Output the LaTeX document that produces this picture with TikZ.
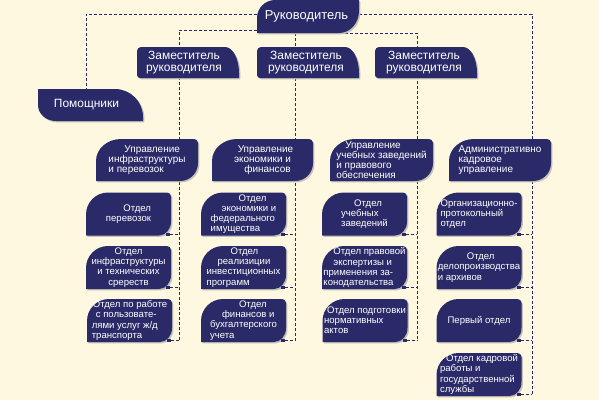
\documentclass[tikz,border=0pt]{standalone}
\usepackage{fontspec}
\setmainfont{Liberation Sans}
\usetikzlibrary{calc}
\definecolor{bgc}{RGB}{254,248,224}
\definecolor{boxc}{RGB}{43,42,104}
\definecolor{linec}{RGB}{40,40,110}
\definecolor{shadowc}{RGB}{195,193,185}
\pgfdeclarelayer{bglayer}
\pgfdeclarelayer{lines}
\pgfdeclarelayer{shapes}
\pgfsetlayers{bglayer,lines,shapes,main}
% #1 node, TL (#2,#3), TR (#4,#5), BR (#6,#7), BL (#8,#9)
\newcommand\bshape[9]{%
  \begin{pgfonlayer}{shapes}
  \foreach \sx/\sy/\col in {1.4/-1.4/shadowc, 0/0/boxc}{
    \fill[fill=\col]
      ([xshift=\sx bp, yshift=\sy bp+#9]#1.south west)
      -- ([xshift=\sx bp, yshift=\sy bp-#3]#1.north west)
      arc[start angle=180, end angle=90, x radius=#2, y radius=#3]
      -- ([xshift=\sx bp-#4, yshift=\sy bp]#1.north east)
      arc[start angle=90, end angle=0, x radius=#4, y radius=#5]
      -- ([xshift=\sx bp, yshift=\sy bp+#7]#1.south east)
      arc[start angle=0, end angle=-90, x radius=#6, y radius=#7]
      -- ([xshift=\sx bp+#8, yshift=\sy bp]#1.south west)
      arc[start angle=270, end angle=180, x radius=#8, y radius=#9]
      -- cycle;
  }
  \end{pgfonlayer}}
\newcommand\leafD[1]{\bshape{#1}{22bp}{22bp}{4bp}{4bp}{12bp}{14bp}{0.5bp}{0.5bp}}
\newcommand\leafU[1]{\bshape{#1}{25bp}{22bp}{4bp}{4bp}{18bp}{18bp}{0.5bp}{0.5bp}}
\newcommand\leafR[1]{\bshape{#1}{18bp}{18bp}{0.5bp}{0.5bp}{20bp}{22bp}{0.5bp}{0.5bp}}
\newcommand\leafZ[1]{\bshape{#1}{4bp}{4bp}{14bp}{26bp}{0.5bp}{0.5bp}{3bp}{3bp}}
\newcommand\leafP[1]{\bshape{#1}{0.5bp}{0.5bp}{28bp}{28bp}{0.5bp}{0.5bp}{18bp}{16bp}}
\tikzset{
  box/.style={inner sep=0pt, outer sep=0pt, text=white, align=center},
  bigbox/.style={box, font=\fontsize{13}{14}\selectfont, minimum width=102bp, minimum height=33bp},
  midbox/.style={box, font=\fontsize{12}{12}\selectfont, minimum width=102bp, minimum height=31bp},
  ubox/.style={box, font=\fontsize{10}{10.2}\selectfont, minimum width=102bp, minimum height=42bp},
  dbox/.style={box, font=\fontsize{9.6}{10.2}\selectfont, minimum width=85bp, minimum height=43bp},
  conn/.style={draw=linec, line width=0.9bp, dash pattern=on 3bp off 2bp},
  sqmark/.style={fill=boxc, inner sep=0pt, outer sep=0pt, minimum width=4bp, minimum height=3bp}
}
\begin{document}
\begin{tikzpicture}[x=1bp,y=-1bp]
\begin{pgfonlayer}{bglayer}
\fill[bgc] (0,0) rectangle (599,400);
\end{pgfonlayer}
\useasboundingbox (0,0) rectangle (599,400);

% top level
\node[bigbox] (r) at (308,16.5) {\hspace*{-3bp}Руководитель};
\node[midbox] (z1) at (188,62.5) {\hspace*{-8bp}Заместитель\\\hspace*{-8bp}руководителя};
\node[midbox] (z2) at (308,62.5) {\hspace*{-4bp}Заместитель\\\hspace*{-4bp}руководителя};
\node[midbox] (z3) at (426,62.5) {\hspace*{-4bp}Заместитель\\\hspace*{-4bp}руководителя};
\node[midbox, minimum width=105bp, minimum height=32bp] (pom) at (90.5,105) {\hspace*{-8bp}Помощники};

% directorates
\node[ubox, align=left] (u1) at (147,160) {\hspace*{16bp}Управление\\инфраструктуры\\и перевозок};
\node[ubox, minimum width=101bp] (u2) at (262.5,160) {\hspace*{6bp}Управление\\экономики и\\\hspace*{10bp}финансов};
\node[ubox, minimum width=103bp, align=left] (u3) at (381.5,160) {\hspace*{9bp}Управление\\учебных заведений\\и правового\\обеспечения};
\node[ubox, align=left] (u4) at (500,160) {Административно\\кадровое\\управление};

% departments
\node[dbox, align=right] (d11) at (128.5,214) {Отдел\\перевозок};
\node[dbox] (d12) at (128.5,267.5) {Отдел\\инфраструктуры\\и технических\\сререств};
\node[dbox, align=left] (d13) at (129.5,320.5) {\hspace*{1bp}Отдел по работе\\\hspace*{4bp}с пользовате-\\лями услуг ж/д\\транспорта};
\node[dbox, align=left] (d21) at (243.5,214) {\hspace*{28bp}Отдел\\\hspace*{11bp}экономики и\\федерального\\имущества};
\node[dbox, align=left] (d22) at (243.5,267.5) {\hspace*{24bp}Отдел\\\hspace*{11bp}реализиции\\инвестиционных\\программ};
\node[dbox, align=left] (d23) at (243.5,320.5) {\hspace*{29bp}Отдел\\\hspace*{12bp}финансов и\\бухгалтерского\\учета};
\node[dbox, align=left] (d31) at (364.5,214) {\hspace*{13bp}Отдел\\учебных\\заведений};
\node[dbox, align=left] (d32) at (364.5,267.5) {\hspace*{10bp}Отдел правовой\\\hspace*{10bp}экспертизы и\\применения за-\\конодательства};
\node[dbox, align=left] (d33) at (365,320.5) {\hspace*{3bp}Отдел подготовки\\нормативных\\актов};
\node[dbox, align=left] (d41) at (479,214) {Организационно-\\протокольный\\отдел};
\node[dbox, align=left] (d42) at (479,267.5) {\hspace*{29bp}Отдел\\делопроизводства\\и архивов};
\node[dbox] (d43) at (479,320.5) {Первый отдел};
\node[dbox, align=left] (d44) at (479,374.5) {\hspace*{6bp}Отдел кадровой\\работы и\\государственной\\службы};

% shapes
\leafR{r}
\leafZ{z1}\leafZ{z2}\leafZ{z3}
\leafP{pom}
\leafU{u1}\leafU{u2}\leafU{u3}\leafU{u4}
\foreach \n in {d11,d12,d13,d21,d22,d23,d31,d32,d33,d41,d42,d43,d44}{\leafD{\n}}

% small marks
\foreach \n in {11,12,13,21,22,23,31,32,33,41,42,43,44}{
  \node[sqmark] (s\n) at ([xshift=-3bp,yshift=1.5bp]d\n.south east) {};
}

% connectors
\coordinate (c0) at (86,14);
\coordinate (c1) at (179,30);
\coordinate (c2) at (295,33);
\coordinate (c3) at (417,32);
\coordinate (c4) at (532,14);
\coordinate (c3s) at ([xshift=-19bp]r.south east);
\begin{pgfonlayer}{lines}
\draw[conn] (r.west |- c0) -| (c0 |- pom.north);
\draw[conn] (r.west |- c1) -| (c1 |- s13);
\draw[conn] (r.south -| c2) -- (c2 |- s23);
\draw[conn] (c3s) -| (c3 |- s33);
\draw[conn] (r.east |- c4) -| (c4 |- s44);
\foreach \c/\k in {1/3,2/3,3/3,4/4}{
  \foreach \i in {1,...,\k}{
    \draw[conn] (s\c\i.east) -- (s\c\i -| c\c);
  }
}
\end{pgfonlayer}
\end{tikzpicture}
\end{document}
